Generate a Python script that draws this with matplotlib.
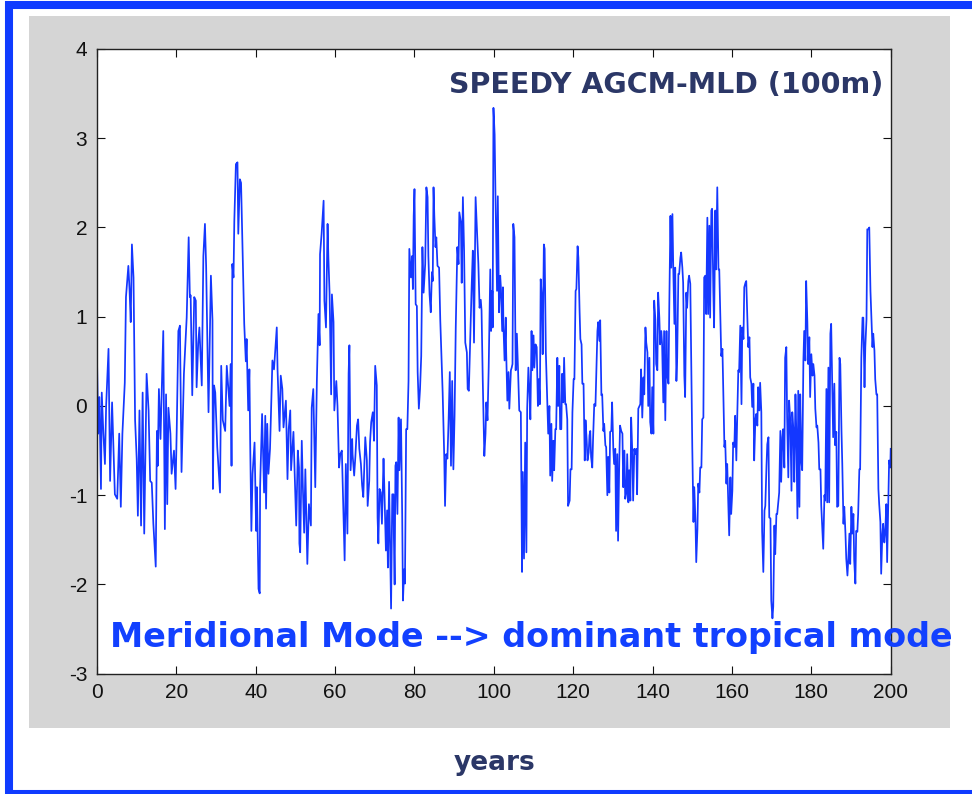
import matplotlib.pyplot as plt
from matplotlib.patches import Rectangle

plt.rcParams['axes.unicode_minus'] = False

# monthly-ish index, read as (year, value) vertices
years = [
    0.0, 0.3, 0.6, 1.0, 1.2, 1.6, 2.0, 2.3, 2.9, 3.3, 3.8, 4.5, 5.1, 5.6, 6.0, 6.4,
    7.0, 7.3, 7.9, 8.2, 8.5, 8.8, 9.2, 9.6, 10.0, 10.3, 10.7, 11.1, 11.5, 11.9, 12.5,
    13.0, 13.4, 13.8, 14.2, 14.8, 15.1, 15.3, 15.6, 16.0, 16.7, 17.1, 17.4, 17.7, 18.0,
    18.5, 18.8, 19.4, 19.8, 20.1, 20.5, 20.9, 21.3, 21.9, 22.6, 23.1, 23.4,
    23.6, 24.0, 24.5, 24.9, 25.1, 25.5, 25.8, 26.2, 26.4, 26.8, 27.2, 27.5, 28.1, 28.7,
    29.1, 29.2, 29.5, 29.8, 30.3, 31.0, 31.3, 31.7, 32.3, 32.7, 33.4, 33.7, 33.9, 34.1,
    34.4, 34.6, 35.0, 35.4, 35.6, 36.0, 36.3, 36.7, 37.1, 37.5, 37.7, 38.1, 38.4, 38.6,
    38.9, 39.2, 39.7, 40.1, 40.3, 40.7, 41.0, 41.1, 41.6, 42.1, 42.4, 42.6, 42.9, 43.2,
    43.6, 44.2, 44.6, 45.3, 45.5, 46.0, 46.3, 46.7, 47.0, 47.6, 48.0, 48.3, 48.7, 48.9,
    49.5, 50.2, 50.6, 50.9, 51.0,
    51.2, 51.6, 51.9, 52.2, 52.5, 53.0, 53.4, 53.9, 54.1, 54.5, 55.0, 55.4, 55.8, 56.1,
    56.2, 56.6, 57.1, 57.3, 57.7, 58.1, 58.3, 58.6, 59.0, 59.2, 59.6, 59.8, 60.3, 60.6,
    61.0, 61.3, 61.7, 62.1, 62.4, 62.7, 63.1, 63.4, 63.6, 63.9, 64.3, 64.4, 64.8, 65.1,
    65.5, 65.8, 66.1, 66.5, 66.8, 67.1, 67.6, 68.0, 68.2, 68.6, 68.8, 69.1, 69.5, 69.8,
    70.1, 70.5, 70.7, 70.9, 71.2, 71.5, 71.8, 72.2, 72.4, 72.8, 73.1, 73.3, 73.6, 73.9,
    74.1, 74.4, 74.7, 74.8, 75.0, 75.2,
    75.4, 75.7, 76.0, 76.2, 76.6, 76.9, 77.1, 77.4, 77.6, 77.9, 78.2, 78.5, 78.7, 79.1,
    79.4, 79.6, 79.8, 80.0, 80.3, 80.6, 80.8, 81.1, 81.4, 81.7, 82.0, 82.3, 82.7, 83.0,
    83.3, 83.5, 83.8, 84.1, 84.4, 84.6, 84.8, 85.0, 85.3, 85.5, 85.8, 86.2, 86.5, 86.9,
    87.1, 87.5, 87.7, 88.0, 88.3, 88.6, 88.9, 89.2, 89.5, 89.8, 90.1, 90.4, 90.8, 91.1,
    91.3, 91.7, 91.9, 92.2, 92.5, 92.8, 93.2, 93.4, 93.7, 94.0, 94.4, 94.7, 95.0, 95.4,
    95.7, 96.1, 96.4, 96.7, 96.9, 97.2, 97.6, 97.9, 98.1, 98.4, 98.7, 99.1, 99.3, 99.6,
    99.7,
    99.9, 100.2, 100.4, 100.8, 101.0, 101.3, 101.6, 101.8, 102.1, 102.3, 102.4, 102.7,
    103.0, 103.1, 103.4, 103.7, 103.9, 104.3, 104.5, 104.7, 104.9, 105.2, 105.5, 105.8,
    106.1, 106.4, 106.8, 107.1, 107.3, 107.6, 107.9, 108.2, 108.4, 108.7, 109.0, 109.2,
    109.5, 109.7, 110.0, 110.2, 110.5, 110.8, 111.1, 111.3, 111.6, 111.8, 112.1, 112.3,
    112.6, 112.8, 113.1, 113.4, 113.7, 114.0, 114.2, 114.5, 114.7, 115.0, 115.2, 115.5,
    115.7, 116.0, 116.2, 116.5, 116.7, 117.0, 117.2, 117.5, 117.7, 118.0, 118.2, 118.5,
    118.7, 119.1, 119.3, 119.6, 119.8, 120.1, 120.3, 120.6, 120.8, 121.1, 121.3, 121.6,
    121.8, 122.1, 122.3, 122.6, 122.9, 123.1, 123.4, 123.6, 123.9, 124.1,
    124.3, 124.5, 124.8, 125.0, 125.3, 125.6, 125.8, 126.1, 126.3, 126.6, 126.8, 127.1,
    127.3, 127.6, 127.8, 128.1, 128.3, 128.6, 128.8, 129.1, 129.3, 129.6, 129.8, 130.1,
    130.3, 130.6, 130.8, 131.1, 131.3, 131.6, 131.8, 132.1, 132.4, 132.6, 132.9, 133.1,
    133.4, 133.6, 133.9, 134.1, 134.4, 134.6, 134.9, 135.1, 135.4, 135.6, 135.9, 136.1,
    136.4, 136.6, 136.9, 137.1, 137.4, 137.7, 137.9, 138.2, 138.4, 138.7, 138.9, 139.2,
    139.4, 139.7, 139.9, 140.2, 140.4, 140.7, 140.9, 141.2, 141.4, 141.7, 141.9, 142.2,
    142.4, 142.7, 142.9, 143.2, 143.5, 143.7, 144.0, 144.2, 144.5, 144.7, 145.0, 145.2,
    145.5, 145.7, 146.0, 146.2, 146.5, 146.7, 147.0, 147.2, 147.5, 147.7, 148.0, 148.2,
    148.5, 148.7, 149.0, 149.2, 149.5,
    150.0, 150.3, 150.5, 150.8, 151.0, 151.3, 151.5, 151.8, 152.0, 152.3, 152.5, 152.8,
    153.0, 153.3, 153.5, 153.8, 154.0, 154.3, 154.5, 154.8, 155.0, 155.3, 155.5, 155.8,
    156.0, 156.3, 156.6, 156.8, 157.1, 157.3, 157.6, 157.8, 158.1, 158.3, 158.6, 158.8,
    159.1, 159.3, 159.6, 159.8, 160.1, 160.3, 160.6, 160.8, 161.1, 161.3, 161.6, 161.8,
    162.1, 162.4, 162.6, 162.9, 163.1, 163.4, 163.6, 163.9, 164.1, 164.4, 164.6, 164.9,
    165.1, 165.4, 165.6, 165.9, 166.1, 166.4, 166.6, 166.9, 167.1, 167.4, 167.6, 167.9,
    168.2, 168.4, 168.7, 168.9, 169.2, 169.4, 169.7, 169.9, 170.2, 170.4, 170.7, 170.9,
    171.2, 171.4, 171.7, 171.9, 172.2, 172.4, 172.7, 172.9, 173.2, 173.4, 173.7, 173.9,
    174.2, 174.4,
    174.7, 175.0, 175.2, 175.5, 175.7, 176.0, 176.2, 176.5, 176.7, 177.0, 177.2, 177.5,
    177.7, 178.0, 178.2, 178.5, 178.7, 179.0, 179.2, 179.5, 179.7, 180.0, 180.3, 180.5,
    180.8, 181.0, 181.3, 181.5, 181.8, 182.0, 182.3, 182.5, 182.8, 183.0, 183.3, 183.5,
    183.8, 184.0, 184.3, 184.5, 184.8, 185.0, 185.3, 185.5, 185.8, 186.0, 186.3, 186.5,
    186.8, 187.1, 187.3, 187.6, 187.8, 188.1, 188.3, 188.6, 188.8, 189.1, 189.3, 189.6,
    189.8, 190.1, 190.3, 190.6, 190.8, 191.1, 191.3, 191.6, 191.8, 192.1, 192.3, 192.6,
    192.9, 193.1, 193.4, 193.6, 193.9, 194.1, 194.4, 194.6, 194.9, 195.1, 195.4, 195.6,
    195.9, 196.1, 196.4, 196.6, 196.9, 197.1, 197.4, 197.6, 197.9, 198.1, 198.4, 198.6,
    198.9, 199.1, 199.4, 199.6, 199.9, 200.0,
]

index = [
    0.54, -0.31, 0.10, -0.93, 0.15, -0.30, -0.65, 0.00, 0.64, -0.84, 0.04, -0.99, -1.04, -0.31, -1.13, -0.31,
    0.26, 1.22, 1.57, 1.30, 0.94, 1.81, 1.44, -0.16, -0.59, -1.23, -0.05, -1.34, 0.15, -1.43, 0.36,
    -0.05, -0.84, -0.86, -1.32, -1.80, -0.28, -0.67, 0.19, -0.37, 0.84, -1.38, 0.13, -1.10, -0.02,
    -0.31, -0.76, -0.50, -0.93, -0.24, 0.84, 0.90, -0.74, 0.36, 0.99, 1.89, 1.22,
    1.24, 0.12, 1.22, 1.18, 0.21, 0.70, 0.88, 0.43, 0.23, 1.68, 2.04, 1.57, -0.07, 1.46,
    0.96, -0.93, 0.23, 0.15, -0.46, -0.97, 0.45, -0.16, -0.28, 0.45, 0.00, 0.47, -0.67, 1.59,
    1.44, 2.07, 2.71, 2.73, 1.93, 2.54, 2.50, 1.72, 0.92, 0.50, 0.75, -0.05, 0.41, -0.41,
    -1.40, -0.76, -0.41, -1.40, -0.91, -2.05, -2.10, -0.91, -0.09, -0.97, -0.11, -1.15, -0.20, -0.76,
    -0.48, 0.51, 0.41, 0.88, 0.40, -0.28, 0.34, 0.19, -0.24, 0.06, -0.82, -0.26, -0.05, -0.72,
    -0.29, -1.34, -0.50, -0.69, -1.54,
    -1.64, -0.39, -0.95, -1.42, -0.71, -1.77, -1.10, -1.34, -0.02, 0.19, -0.91, 0.28, 1.03, 0.68,
    1.70, 1.93, 2.30, 1.18, 0.88, 2.04, 1.67, 1.27, 0.13, 1.25, 0.94, -0.05, 0.28, 0.00,
    -0.69, -0.54, -0.50, -1.21, -1.73, -0.65, -1.43, 0.36, 0.68, -0.72, -0.37, -0.54, -0.78, -0.57,
    -0.22, -0.15, -0.48, -0.65, -0.89, -1.02, -0.35, -0.61, -1.12, -0.84, -0.41, -0.18, -0.07, -0.39,
    0.45, 0.23, -1.25, -1.54, -0.93, -0.97, -1.32, -0.59, -0.91, -1.62, -1.17, -1.81, -0.85, -1.73,
    -2.27, -0.99, -0.99, -1.45, -2.00, -0.67,
    -0.63, -1.21, -0.13, -0.72, -0.15, -1.21, -2.18, -1.83, -1.99, -0.26, -0.26, 0.28, 1.76, 1.44,
    1.68, 1.31, 2.13, 2.43, 1.14, 1.12, 0.38, -0.03, 0.19, 0.56, 1.78, 1.27, 1.59, 2.45,
    2.34, 1.68, 1.25, 1.05, 1.50, 1.40, 2.45, 2.13, 1.78, 1.89, 1.57, 1.55, 0.96, 0.41,
    0.15, -0.57, -1.12, -0.54, -0.59, -0.15, 0.38, -0.67, 0.28, -0.71, -0.11, 0.88, 1.78, 1.59,
    2.17, 2.06, 1.38, 2.34, 1.74, 0.71, 0.60, 0.19, 0.17, 0.67, 1.33, 1.74, 0.71, 2.34,
    2.02, 1.59, 1.10, 1.19, 1.07, 0.30, -0.56, -0.31, 0.04, -0.16, 0.43, 1.53, 0.84, 1.29,
    0.88,
    3.34, 3.04, 2.39, 1.29, 2.35, 1.05, 1.46, 1.31, 0.84, 1.33, 0.92, 0.51,
    0.99, 0.62, 0.06, 0.38, -0.03, 0.40, 0.43, 0.47, 2.04, 1.89, 0.40, 0.81,
    0.40, -0.05, -0.07, -1.86, -0.74, -1.71, -0.41, -1.64, -0.03, 0.43, 0.13, -0.15,
    0.84, 0.40, 0.79, 0.43, 0.69, 0.66, 0.00, 0.30, 0.02, 1.42, 1.22, 0.58,
    1.81, 1.76, 0.60, 0.15, -0.31, 0.00, -0.78, -0.20, -0.84, -0.39, -0.72, -0.26,
    -0.26, 0.54, 0.00, 0.45, -0.26, -0.26, 0.36, 0.04, 0.54, 0.02, 0.02, -0.15,
    -1.12, -1.06, -0.71, -0.71, -0.07, 0.30, 0.30, 1.29, 1.31, 1.79, 1.66, 1.07,
    0.75, 0.69, 0.25, 0.25, -0.61, -0.16, -0.39, -0.61, -0.52, -0.33,
    -0.28, -0.57, -0.69, -0.37, 0.02, 0.00, 0.32, 0.84, 0.94, 0.73, 0.96, 0.12,
    0.13, -0.28, -0.20, -0.44, -0.46, -1.00, -0.57, -0.97, -0.29, -0.28, 0.04, -0.48,
    -0.65, -0.48, -1.40, -0.54, -1.51, -0.63, -0.22, -0.28, -0.31, -0.91, -0.50, -1.04,
    -0.97, -0.54, -1.08, -0.72, -1.06, -0.13, -0.54, -1.06, -0.48, -0.54, -0.48, -0.99,
    -0.03, -0.01, 0.02, 0.41, -0.13, 0.32, 0.13, 0.88, 0.71, 0.60, 0.00, 0.54,
    -0.18, -0.31, 0.21, -0.31, 1.18, 0.97, 0.47, 0.40, 1.27, 0.99, 0.69, 0.84,
    0.69, 0.04, 0.84, -0.16, 0.84, 0.34, 0.25, 1.09, 2.13, 1.55, 2.15, 1.57,
    0.92, 1.55, 0.28, 0.54, 1.48, 1.48, 1.66, 1.72, 1.55, 1.38, 0.34, 0.10,
    1.27, 1.10, 1.40, 1.46, 1.37,
    -0.46, -1.30, -0.91, -1.28, -1.75, -1.38, -0.87, -0.97, -0.69, -0.69, -0.15, -0.13,
    1.44, 1.46, 1.03, 2.11, 1.03, 2.02, 0.99, 2.19, 2.21, 1.29, 0.88, 2.19,
    1.53, 2.45, 1.53, 1.53, 0.96, 0.56, 0.64, 0.19, -0.46, -0.39, -0.87, -0.65,
    -1.12, -1.45, -0.80, -1.21, -0.95, -0.41, -0.46, -0.11, -0.61, -0.18, 0.40, 0.38,
    0.90, 0.02, 0.88, 0.75, 1.33, 1.38, 1.40, 0.94, 0.66, 0.77, 0.32, 0.25,
    -0.01, 0.25, -0.61, -0.15, -0.09, -0.22, 0.21, -0.05, 0.26, -0.07, -1.40, -1.86,
    -1.17, -1.12, -0.67, -0.43, -0.35, -1.25, -1.26, -2.18, -2.38, -2.25, -1.34, -1.66,
    -1.21, -1.21, -1.06, -0.97, -0.28, -0.85, -0.35, -0.26, -0.69, 0.54, 0.66, -0.13,
    -0.80, 0.06,
    -0.16, -0.95, -0.07, -0.28, -0.85, 0.13, -0.26, -1.26, 0.17, -1.13, 0.13, -0.63,
    -0.72, 0.51, 0.84, 0.51, 1.40, 0.94, 0.47, 0.77, 0.10, 0.58, 0.34, 0.47,
    0.34, -0.03, -0.24, -0.22, -0.41, -0.71, -0.71, -1.12, -1.40, -1.60, -1.00, -1.06,
    0.19, -1.08, 0.43, -1.08, 0.81, 0.92, 0.19, -0.35, 0.25, -0.44, -0.29, -1.13,
    -1.12, 0.54, 0.47, -0.28, -0.65, -1.32, -1.13, -1.43, -1.71, -1.90, -1.73, -1.43,
    -1.77, -1.13, -1.43, -1.21, -1.73, -1.99, -1.40, -1.41, -1.21, -0.71, -0.71, 0.54,
    0.99, 0.99, 0.21, 0.66, 0.97, 1.98, 1.98, 2.00, 1.29, 1.03, 0.66, 0.81,
    0.62, 0.30, 0.13, 0.13, -0.93, -1.10, -1.30, -1.88, -1.43, -1.32, -1.53, -1.43,
    -1.10, -1.75, -1.10, -0.61, -0.69, -0.48,
]

x_ticks = [0, 20, 40, 60, 80, 100, 120, 140, 160, 180, 200]
y_ticks = [-3, -2, -1, 0, 1, 2, 3, 4]

W, H = 972, 794
fig = plt.figure(figsize=(W / 100, H / 100), dpi=100)
fig.patch.set_facecolor('white')

# grey figure panel
fig.patches.append(Rectangle((29 / W, 1 - 728 / H), 921 / W, 712 / H,
                             transform=fig.transFigure, facecolor='#d5d5d5',
                             edgecolor='none', zorder=-2))
# blue slide border
fig.patches.append(Rectangle((8.5 / W, 0.0), 1.05, 1 - 4.5 / H,
                             transform=fig.transFigure, fill=False,
                             edgecolor='#0f3bff', lw=5.8, zorder=5))

ax = fig.add_axes([97 / W, 1 - 673.7 / H, 793.7 / W, 624.7 / H])
ax.set_zorder(1)
ax.set_facecolor('white')
ax.plot(years, index, color='#1437ff', lw=1.25)
ax.set_xlim(0, 200)
ax.set_ylim(-3, 4)
ax.set_xticks(x_ticks)
ax.set_yticks(y_ticks)
ax.tick_params(direction='in', length=6, width=0.8, top=True, right=True,
               labelsize=15, colors='#111111', pad=7)
for lab in ax.get_xticklabels() + ax.get_yticklabels():
    lab.set_fontfamily('Liberation Sans')
for s in ax.spines.values():
    s.set_linewidth(1.0)
    s.set_color('#222222')

fig.text(883 / W, 1 - 93 / H, 'SPEEDY AGCM-MLD (100m)', ha='right', va='baseline',
         fontsize=20.5, fontweight='bold', color='#2b3767', zorder=6)
fig.text(110 / W, 1 - 647 / H, 'Meridional Mode --> dominant tropical mode',
         ha='left', va='baseline', fontsize=24, fontweight='bold', color='#1240ff',
         zorder=6)
fig.text(495 / W, 1 - 770 / H, 'years', ha='center', va='baseline',
         fontsize=19, fontweight='bold', color='#2b3767', zorder=6)

fig.savefig('out.png', dpi=100)
